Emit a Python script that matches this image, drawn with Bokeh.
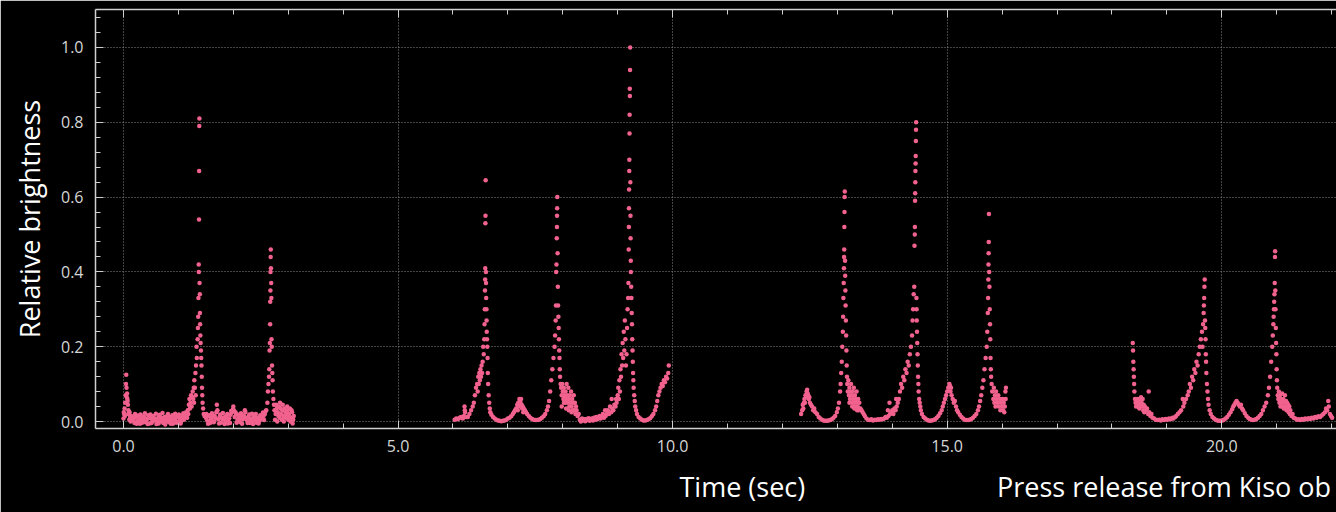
from bokeh.plotting import figure
from bokeh.models import LinearAxis, Range1d, ColumnDataSource, SingleIntervalTicker, FixedTicker, PrintfTickFormatter
from bokeh.embed import file_html
from bokeh.resources import INLINE

# Light-curve samples: (time in sec, relative brightness)
seg1 = [(0.00,0.008),(0.005,0.025),(0.01,0.02),(0.02,0.035),(0.025,0.015),(0.03,0.05),(0.04,0.07),(0.045,0.10),
        (0.05,0.125),(0.055,0.09),(0.06,0.065),(0.065,0.075),(0.07,0.06),(0.075,0.055),(0.08,0.045),(0.085,0.02),
        (0.09,0.03),(0.10,0.02),(0.105,0.005),(0.11,0.025),(0.12,0.012),(0.13,0.0),(0.14,0.015),(0.16,0.005),
        (0.175,0.003),(0.19,0.012),(0.20,-0.004),(0.21,0.020),(0.225,0.010),(0.24,-0.006),(0.25,0.001),(0.26,0.016),
        (0.275,0.014),(0.29,0.004),(0.30,-0.006),(0.31,0.019),(0.325,0.007),(0.34,-0.003),(0.35,0.002),(0.36,0.013),
        (0.375,0.012),(0.39,0.022),(0.40,-0.002),(0.41,0.006),(0.425,0.005),(0.44,-0.007),(0.45,0.017),(0.46,0.011),
        (0.475,-0.005),(0.49,0.019),(0.50,0.008),(0.51,-0.004),(0.525,0.000),(0.54,0.015),(0.55,0.011),(0.56,0.007),
        (0.575,0.003),(0.59,0.021),(0.60,-0.007),(0.61,0.002),(0.625,0.009),(0.64,-0.005),(0.65,0.014),(0.66,0.018),
        (0.675,0.001),(0.69,0.010),(0.70,0.006),(0.71,0.023),(0.725,-0.004),(0.74,0.004),(0.75,0.012),(0.76,-0.008),
        (0.775,0.002),(0.79,0.009),(0.80,0.016),(0.81,0.020),(0.825,-0.001),(0.84,0.012),(0.85,0.007),(0.86,-0.006),
        (0.875,0.004),(0.89,0.017),(0.90,-0.006),(0.91,0.006),(0.925,0.010),(0.94,0.021),(0.95,0.003),(0.96,-0.003),
        (0.975,0.013),(0.99,0.014),(1.00,-0.002),(1.01,0.019),(1.025,0.008),(1.04,-0.005),(1.05,0.001),(1.06,0.011),
        (1.075,0.015),(1.09,0.022),(1.10,0.005),(1.11,0.008),
        (1.125,0.012),(1.14,0.025),(1.15,0.02),(1.16,0.01),(1.17,0.03),(1.18,0.02),(1.19,0.045),(1.20,0.06),(1.21,0.035),
        (1.22,0.05),(1.23,0.07),(1.24,0.04),(1.25,0.065),(1.26,0.08),(1.27,0.06),(1.28,0.09),(1.285,0.05),(1.29,0.11),
        (1.30,0.09),(1.31,0.13),(1.315,0.07),(1.32,0.15),(1.33,0.2),(1.335,0.17),
        (1.35,0.22),(1.355,0.25),(1.36,0.28),(1.365,0.33),(1.37,0.42),(1.372,0.40),(1.375,0.54),(1.377,0.67),(1.38,0.79),
        (1.382,0.81),(1.385,0.37),(1.39,0.34),(1.392,0.29),(1.395,0.26),(1.40,0.23),(1.405,0.21),(1.41,0.19),(1.415,0.17),
        (1.42,0.15),(1.425,0.12),(1.43,0.09),(1.435,0.07),(1.44,0.05),(1.45,0.035),(1.46,0.02),(1.475,0.015),
        (1.50,0.010),(1.51,0.020),(1.525,0.003),(1.54,-0.006),(1.55,0.014),(1.56,0.017),(1.575,-0.004),(1.59,0.004),
        (1.60,0.008),(1.61,0.022),(1.625,0.012),(1.64,-0.002),(1.65,0.000),(1.66,0.015),(1.675,0.009),(1.69,0.025),
        (1.70,0.045),(1.71,0.030),(1.725,0.006),(1.74,-0.005),(1.75,0.013),(1.76,0.019),(1.775,-0.003),(1.79,0.010),
        (1.80,0.007),(1.81,0.023),(1.825,0.011),(1.84,-0.007),(1.85,0.002),(1.86,0.012),(1.875,0.016),(1.89,0.020),
        (1.90,-0.005),(1.91,0.005),(1.925,0.009),(1.94,-0.004),(1.95,0.018),(1.96,0.028),(1.975,0.025),(1.99,0.032),
        (2.00,0.040),(2.01,0.03),(2.025,0.012),(2.04,0.025),(2.05,0.020),(2.06,-0.003),(2.075,0.004),(2.09,0.018),
        (2.10,0.011),(2.11,0.007),(2.125,-0.002),(2.14,0.022),(2.15,0.014),(2.16,-0.006),(2.175,0.006),(2.19,0.016),
        (2.20,0.009),(2.21,0.030),(2.22,0.025),(2.24,0.010),(2.25,0.003),(2.26,-0.004),(2.275,0.012),(2.29,0.019),
        (2.30,-0.004),(2.31,0.006),(2.325,0.008),(2.34,0.021),(2.35,0.001),(2.36,-0.007),(2.375,0.013),(2.39,0.014),
        (2.40,0.005),(2.41,0.020),(2.425,-0.003),(2.44,0.003),(2.45,0.010),(2.46,-0.005),(2.475,0.002),(2.49,0.017),
        (2.50,0.012),(2.51,0.009),(2.525,0.006),(2.54,0.024),(2.55,0.015),(2.56,0.004),(2.575,0.02),(2.59,0.028),
        (2.60,0.03),(2.62,0.05),(2.63,0.08),(2.64,0.10),(2.65,0.12),(2.655,0.14),(2.66,0.19),(2.665,0.21),(2.67,0.26),
        (2.672,0.32),(2.675,0.35),(2.677,0.40),(2.68,0.44),(2.682,0.46),(2.685,0.41),(2.69,0.37),(2.693,0.33),(2.695,0.22),
        (2.70,0.2),(2.705,0.15),(2.71,0.13),(2.715,0.11),(2.72,0.08),(2.73,0.06),(2.74,0.045),
        (2.75,0.03),(2.76,0.005),(2.77,0.02),(2.78,0.045),(2.79,0.035),(2.80,0.0),(2.81,0.025),(2.82,0.015),(2.83,0.04),
        (2.84,0.01),(2.85,0.05),(2.86,0.035),(2.87,0.02),(2.88,0.005),(2.89,0.03),(2.90,0.045),(2.91,0.015),(2.92,0.0),
        (2.93,0.035),(2.94,0.01),(2.95,0.025),(2.96,0.015),(2.97,0.01),(2.98,0.04),(2.99,0.03),(3.00,0.005),(3.01,0.02),
        (3.02,0.015),(3.03,0.035),(3.04,0.0),(3.05,0.01),(3.06,0.03),(3.07,0.025),(3.08,-0.005),(3.09,0.005),(3.10,0.015)]

seg2 = [(6.03,0.005),(6.06,0.008),(6.09,0.006),(6.12,0.010),(6.15,0.012),(6.18,0.008),(6.20,0.015),(6.21,0.04),
        (6.215,0.03),(6.22,0.025),(6.24,0.012),(6.27,0.012),(6.30,0.02),(6.33,0.03),(6.36,0.04),(6.38,0.05),(6.40,0.07),
        (6.42,0.09),(6.44,0.10),(6.45,0.08),(6.46,0.12),(6.47,0.10),(6.48,0.13),(6.49,0.11),(6.50,0.14),(6.51,0.12),
        (6.52,0.15),(6.53,0.13),(6.54,0.16),(6.55,0.2),
        (6.56,0.18),(6.57,0.22),(6.575,0.26),(6.58,0.3),(6.583,0.35),(6.586,0.38),(6.588,0.41),(6.59,0.53),(6.592,0.55),
        (6.595,0.645),(6.60,0.40),(6.602,0.37),(6.605,0.33),(6.61,0.30),(6.612,0.27),(6.615,0.24),(6.62,0.22),(6.625,0.2),
        (6.63,0.17),(6.635,0.13),(6.64,0.1),(6.65,0.07),(6.66,0.05),(6.67,0.035),(6.68,0.025),(6.70,0.018),
        (6.73,0.012),(6.76,0.008),(6.79,0.005),(6.82,0.003),(6.85,0.002),(6.88,0.001),(6.91,0.002),(6.94,0.003),
        (6.97,0.005),(7.00,0.008),(7.03,0.010),(7.06,0.014),(7.09,0.02),
        (7.11,0.025),(7.13,0.03),(7.15,0.035),(7.17,0.045),(7.18,0.03),(7.19,0.05),(7.20,0.04),(7.21,0.06),(7.22,0.055),
        (7.23,0.05),(7.24,0.06),(7.25,0.045),(7.26,0.035),(7.27,0.04),(7.28,0.025),(7.29,0.035),(7.31,0.03),(7.33,0.025),
        (7.35,0.02),(7.38,0.015),(7.41,0.01),(7.44,0.007),(7.47,0.005),(7.50,0.004),(7.53,0.004),(7.56,0.005),
        (7.59,0.007),(7.62,0.01),(7.65,0.014),(7.68,0.02),(7.71,0.03),(7.73,0.04),(7.75,0.055),(7.77,0.08),(7.79,0.11),
        (7.81,0.14),(7.83,0.17),(7.85,0.2),(7.86,0.23),(7.87,0.27),(7.875,0.31),(7.88,0.4),(7.885,0.42),(7.89,0.49),
        (7.893,0.52),(7.895,0.55),(7.897,0.57),(7.90,0.60),(7.905,0.45),(7.91,0.36),(7.915,0.31),(7.92,0.28),
        (7.925,0.25),(7.93,0.22),(7.935,0.19),(7.94,0.17),(7.945,0.14),(7.95,0.12),(7.96,0.1),
        (7.97,0.09),(7.98,0.07),(7.98,0.04),(7.99,0.1),(8.00,0.08),(8.01,0.06),(8.02,0.09),(8.02,0.05),(8.03,0.07),
        (8.04,0.05),(8.05,0.08),(8.06,0.06),(8.06,0.035),(8.07,0.1),(8.08,0.07),(8.09,0.05),(8.10,0.09),(8.11,0.06),
        (8.11,0.03),(8.12,0.04),(8.13,0.07),(8.14,0.05),(8.15,0.08),(8.16,0.04),(8.16,0.025),(8.17,0.06),(8.18,0.03),
        (8.19,0.05),(8.20,0.07),(8.21,0.03),(8.22,0.05),(8.23,0.02),(8.24,0.04),(8.25,0.03),(8.27,0.015),(8.29,0.02),
        (8.31,0.005),(8.33,0.0),(8.35,0.008),(8.37,0.003),(8.39,0.006),(8.41,0.001),(8.43,0.007),(8.45,0.004),
        (8.47,0.009),(8.49,0.002),(8.51,0.006),(8.53,0.008),(8.55,0.003),(8.57,0.01),(8.59,0.005),(8.61,0.012),
        (8.63,0.006),(8.65,0.01),(8.67,0.015),(8.69,0.008),(8.71,0.012),(8.73,0.02),(8.75,0.01),(8.77,0.03),(8.78,0.015),
        (8.80,0.02),(8.82,0.03),(8.84,0.02),(8.86,0.04),(8.88,0.025),(8.89,0.06),(8.90,0.035),(8.92,0.03),(8.94,0.045),
        (8.96,0.04),(8.97,0.06),(8.98,0.05),(9.00,0.07),(9.01,0.09),(9.02,0.06),(9.03,0.11),(9.04,0.08),(9.05,0.14),
        (9.06,0.12),(9.07,0.18),(9.08,0.15),(9.09,0.21),(9.10,0.17),(9.11,0.24),(9.12,0.19),(9.13,0.27),(9.14,0.22),
        (9.15,0.15),(9.16,0.18),(9.17,0.25),(9.18,0.3),
        (9.19,0.33),(9.195,0.37),(9.20,0.46),(9.203,0.52),(9.205,0.57),(9.207,0.62),(9.21,0.67),(9.212,0.70),
        (9.215,0.77),(9.217,0.82),(9.22,0.89),(9.222,0.87),(9.225,0.94),(9.227,1.0),(9.23,0.64),(9.233,0.55),
        (9.235,0.49),(9.238,0.43),(9.24,0.40),(9.245,0.36),(9.25,0.33),(9.255,0.29),(9.26,0.26),(9.265,0.22),
        (9.27,0.19),(9.275,0.16),(9.28,0.13),(9.285,0.11),(9.29,0.09),(9.30,0.07),(9.31,0.055),(9.32,0.04),
        (9.335,0.03),(9.35,0.02),
        (9.38,0.012),(9.41,0.008),(9.44,0.005),(9.47,0.003),(9.50,0.003),(9.53,0.004),(9.56,0.006),(9.59,0.009),
        (9.62,0.014),(9.65,0.02),(9.68,0.03),(9.70,0.04),(9.72,0.055),(9.74,0.07),(9.76,0.08),(9.78,0.09),(9.80,0.1),
        (9.82,0.095),(9.84,0.11),(9.86,0.105),(9.88,0.12),(9.90,0.115),(9.92,0.13),(9.93,0.15)]

seg3 = [(12.34,0.02),(12.36,0.03),(12.37,0.045),(12.38,0.035),(12.39,0.05),(12.40,0.06),(12.41,0.05),(12.42,0.07),
        (12.43,0.065),(12.44,0.08),(12.45,0.085),(12.46,0.075),(12.47,0.07),(12.48,0.06),(12.49,0.065),(12.50,0.05),
        (12.52,0.045),(12.54,0.04),(12.56,0.03),(12.58,0.035),(12.60,0.025),(12.63,0.02),(12.66,0.012),(12.69,0.008),
        (12.72,0.005),(12.75,0.003),(12.78,0.002),(12.81,0.002),(12.84,0.003),(12.87,0.004),(12.90,0.006),(12.93,0.01),
        (12.96,0.015),(12.99,0.025),(13.01,0.035),(13.03,0.05),(13.05,0.08),
        (13.06,0.1),(13.07,0.13),(13.08,0.16),(13.09,0.2),(13.10,0.24),(13.105,0.28),(13.11,0.33),(13.115,0.37),
        (13.12,0.41),(13.122,0.44),(13.125,0.46),(13.127,0.52),(13.13,0.56),(13.132,0.60),(13.135,0.615),(13.14,0.43),
        (13.143,0.39),(13.146,0.35),(13.15,0.31),(13.155,0.27),(13.16,0.23),(13.165,0.19),(13.17,0.15),(13.175,0.12),
        (13.18,0.1),(13.19,0.08),(13.20,0.11),(13.21,0.07),(13.22,0.09),(13.22,0.05),(13.23,0.06),(13.24,0.08),
        (13.25,0.1),(13.26,0.07),(13.27,0.05),(13.27,0.04),(13.28,0.08),(13.29,0.06),(13.30,0.09),(13.31,0.05),
        (13.31,0.035),(13.32,0.07),(13.33,0.04),(13.34,0.06),(13.35,0.08),(13.36,0.05),(13.36,0.03),(13.37,0.04),
        (13.38,0.06),(13.39,0.03),(13.40,0.05),(13.42,0.035),(13.44,0.03),(13.46,0.025),(13.48,0.02),(13.50,0.015),
        (13.53,0.008),(13.56,0.005),(13.59,0.004),(13.62,0.006),(13.65,0.003),(13.68,0.005),(13.71,0.004),(13.74,0.006),
        (13.77,0.005),(13.80,0.007),(13.83,0.006),(13.86,0.009),(13.88,0.012),(13.90,0.01),(13.92,0.03),(13.93,0.015),
        (13.95,0.05),(13.96,0.02),(13.98,0.025),(14.00,0.03),(14.02,0.02),(14.04,0.035),(14.06,0.03),
        (14.07,0.06),(14.08,0.04),(14.10,0.05),(14.12,0.06),(14.14,0.08),(14.16,0.1),(14.18,0.09),(14.20,0.12),
        (14.22,0.11),(14.24,0.14),(14.26,0.13),(14.28,0.16),(14.30,0.15),(14.32,0.18),(14.34,0.2),(14.36,0.23),
        (14.37,0.27),(14.38,0.3),(14.39,0.34),(14.40,0.36),(14.405,0.47),(14.41,0.5),(14.412,0.52),(14.415,0.59),
        (14.417,0.61),(14.42,0.64),(14.422,0.67),(14.425,0.69),(14.427,0.71),(14.43,0.75),(14.432,0.78),(14.435,0.80),
        (14.44,0.33),(14.443,0.3),(14.446,0.27),(14.45,0.24),(14.455,0.21),(14.46,0.18),(14.465,0.15),(14.47,0.12),
        (14.475,0.1),(14.48,0.08),(14.49,0.06),(14.50,0.05),(14.51,0.04),(14.52,0.03),(14.54,0.02),
        (14.57,0.012),(14.60,0.008),(14.63,0.005),(14.66,0.003),(14.69,0.002),(14.72,0.003),(14.75,0.004),(14.78,0.006),
        (14.81,0.01),(14.84,0.015),(14.87,0.022),(14.90,0.03),(14.92,0.04),(14.94,0.05),(14.96,0.06),(14.98,0.07),
        (15.00,0.08),(15.02,0.09),(15.04,0.1),(15.05,0.095),(15.06,0.08),(15.07,0.09),(15.08,0.07),(15.10,0.06),
        (15.12,0.05),(15.14,0.055),(15.16,0.04),(15.18,0.03),(15.20,0.025),(15.23,0.018),(15.26,0.012),(15.29,0.008),
        (15.32,0.005),(15.35,0.004),(15.38,0.004),(15.41,0.005),(15.44,0.007),(15.47,0.01),(15.50,0.015),(15.53,0.02),
        (15.56,0.03),(15.58,0.04),(15.60,0.055),(15.62,0.07),(15.64,0.09),
        (15.66,0.11),(15.68,0.14),(15.70,0.17),(15.72,0.2),(15.73,0.24),(15.74,0.29),(15.745,0.33),(15.75,0.38),
        (15.752,0.42),(15.755,0.45),(15.757,0.48),(15.76,0.555),(15.765,0.40),(15.77,0.36),(15.775,0.3),(15.78,0.26),
        (15.785,0.22),(15.79,0.17),(15.795,0.14),(15.80,0.12),(15.81,0.1),
        (15.82,0.08),(15.84,0.06),(15.85,0.09),(15.86,0.05),(15.87,0.07),(15.88,0.04),(15.89,0.08),(15.90,0.06),
        (15.92,0.05),(15.93,0.07),(15.94,0.04),(15.96,0.06),(15.97,0.03),(15.98,0.05),(16.00,0.04),(16.01,0.06),
        (16.02,0.03),(16.03,0.05),(16.04,0.025),(16.05,0.04),(16.06,0.08),(16.065,0.06),(16.07,0.09)]

seg4 = [(18.38,0.21),(18.385,0.19),(18.39,0.16),(18.395,0.14),(18.40,0.12),(18.405,0.1),(18.41,0.08),(18.42,0.06),
        (18.43,0.05),(18.44,0.04),(18.45,0.055),(18.46,0.045),(18.47,0.06),(18.48,0.04),(18.49,0.05),(18.50,0.035),
        (18.51,0.055),(18.52,0.045),(18.53,0.065),(18.54,0.05),(18.55,0.04),(18.56,0.06),(18.57,0.03),(18.58,0.045),
        (18.59,0.025),(18.60,0.04),(18.62,0.03),(18.64,0.035),(18.66,0.02),(18.67,0.08),(18.68,0.025),(18.70,0.015),
        (18.72,0.02),(18.74,0.01),(18.77,0.008),(18.80,0.005),(18.83,0.004),(18.86,0.005),(18.89,0.003),(18.92,0.006),
        (18.95,0.004),(18.98,0.007),(19.01,0.005),(19.04,0.008),(19.07,0.006),(19.10,0.01),(19.12,0.008),(19.15,0.012),
        (19.17,0.015),(19.20,0.02),(19.23,0.025),(19.26,0.03),(19.29,0.06),(19.30,0.04),(19.32,0.05),(19.35,0.06),
        (19.38,0.07),(19.40,0.08),(19.42,0.1),(19.44,0.09),(19.46,0.12),(19.48,0.11),(19.50,0.14),(19.52,0.13),
        (19.54,0.16),(19.56,0.15),(19.58,0.18),(19.60,0.2),
        (19.62,0.22),(19.64,0.24),(19.65,0.2),(19.66,0.26),(19.67,0.29),(19.675,0.31),(19.68,0.33),(19.685,0.36),
        (19.69,0.38),(19.695,0.27),(19.70,0.25),(19.705,0.22),(19.71,0.18),(19.715,0.16),(19.72,0.13),(19.73,0.1),
        (19.74,0.08),(19.75,0.06),(19.76,0.045),(19.78,0.03),(19.80,0.02),
        (19.83,0.012),(19.86,0.008),(19.89,0.005),(19.92,0.003),(19.95,0.002),(19.98,0.002),(20.01,0.003),(20.04,0.005),
        (20.07,0.008),(20.10,0.012),(20.13,0.018),(20.16,0.025),(20.19,0.033),(20.21,0.04),(20.23,0.045),(20.25,0.05),
        (20.27,0.055),(20.29,0.05),(20.31,0.045),(20.33,0.04),(20.35,0.045),(20.37,0.035),(20.39,0.03),(20.42,0.022),
        (20.45,0.015),(20.48,0.01),(20.51,0.007),(20.54,0.005),(20.57,0.004),(20.60,0.005),(20.63,0.007),(20.66,0.01),
        (20.69,0.015),(20.72,0.02),(20.75,0.03),(20.78,0.04),(20.81,0.05),(20.84,0.07),(20.86,0.09),(20.88,0.12),
        (20.90,0.16),(20.92,0.2),(20.93,0.23),(20.94,0.26),(20.945,0.28),(20.95,0.3),(20.955,0.32),(20.96,0.34),
        (20.965,0.37),(20.97,0.44),(20.972,0.455),(20.975,0.35),(20.98,0.3),(20.985,0.25),(20.99,0.21),(20.995,0.18),
        (21.00,0.14),(21.005,0.11),(21.01,0.09),(21.02,0.07),
        (21.03,0.06),(21.04,0.08),(21.05,0.05),(21.06,0.07),(21.07,0.04),(21.08,0.06),(21.09,0.05),(21.10,0.075),
        (21.11,0.04),(21.12,0.06),(21.13,0.035),(21.14,0.05),(21.15,0.07),(21.16,0.04),(21.17,0.055),(21.18,0.03),
        (21.19,0.05),(21.20,0.035),(21.21,0.045),(21.22,0.025),(21.23,0.04),(21.24,0.02),(21.25,0.03),(21.27,0.015),
        (21.29,0.02),(21.31,0.01),(21.34,0.008),(21.37,0.005),(21.40,0.006),(21.43,0.004),(21.46,0.007),(21.49,0.005),
        (21.52,0.008),(21.55,0.006),(21.58,0.009),(21.61,0.007),(21.64,0.01),(21.67,0.008),(21.70,0.012),(21.73,0.01),
        (21.76,0.014),(21.79,0.012),(21.82,0.016),(21.85,0.02),(21.88,0.025),(21.90,0.035),(21.92,0.03),(21.94,0.055),
        (21.95,0.04),(21.97,0.02),(21.99,0.015),(22.01,0.01)]

x_label = "Time (sec)"
y_label = "Relative brightness"
note = "Press release from Kiso ob"

points = seg1 + seg2 + seg3 + seg4
src = ColumnDataSource(data=dict(t=[pt[0] for pt in points], b=[pt[1] for pt in points]))

AXIS = "#cfcfcf"
FONT = "Open Sans"

p = figure(width=1336, height=512, output_backend="svg", toolbar_location=None,
           x_range=Range1d(-0.51, 22.09), y_range=Range1d(-0.0187, 1.1016),
           background_fill_color="black", border_fill_color="black", outline_line_color=None,
           min_border_left=95, min_border_right=0, min_border_top=9, min_border_bottom=84)

p.scatter("t", "b", source=src, size=4.5, color="#f2628e", line_color=None)

for ax in (p.xaxis[0], p.yaxis[0]):
    ax.axis_line_color = AXIS
    ax.axis_line_width = 1.5
    ax.major_tick_line_color = AXIS
    ax.minor_tick_line_color = AXIS
    ax.major_tick_in = 8
    ax.major_tick_out = 0
    ax.minor_tick_in = 5
    ax.minor_tick_out = 0
    ax.major_label_text_color = "#d6d6d6"
    ax.major_label_text_font = FONT
    ax.major_label_text_font_size = "16px"
    ax.formatter = PrintfTickFormatter(format="%.1f")

p.xaxis[0].ticker = SingleIntervalTicker(interval=5, num_minor_ticks=5)
p.yaxis[0].ticker = SingleIntervalTicker(interval=0.2, num_minor_ticks=5)
p.xaxis[0].major_label_standoff = 11
p.yaxis[0].major_label_standoff = 12

p.yaxis[0].axis_label = y_label
p.yaxis[0].axis_label_text_font = FONT
p.yaxis[0].axis_label_text_font_size = "27px"
p.yaxis[0].axis_label_text_font_style = "normal"
p.yaxis[0].axis_label_text_color = "white"
p.yaxis[0].axis_label_standoff = 10

top = LinearAxis(ticker=SingleIntervalTicker(interval=5, num_minor_ticks=5),
                 axis_line_color=AXIS, axis_line_width=1.5,
                 major_tick_line_color=AXIS, minor_tick_line_color=AXIS,
                 major_tick_in=8, major_tick_out=0, minor_tick_in=5, minor_tick_out=0,
                 major_label_text_color=None, major_label_standoff=0)
p.add_layout(top, "above")

# caption row under the time axis: an unstyled axis whose two labels carry the captions
cap_pos = [11.27, 18.95]
captions = LinearAxis(ticker=FixedTicker(ticks=cap_pos, minor_ticks=[]),
                      major_label_overrides={cap_pos[0]: x_label, cap_pos[1]: note},
                      axis_line_color=None, major_tick_line_color=None, minor_tick_line_color=None,
                      major_tick_in=0, major_tick_out=0, major_label_standoff=13,
                      major_label_text_font=FONT, major_label_text_font_size="27px",
                      major_label_text_color="white")
p.add_layout(captions, "below")

p.grid.grid_line_color = "#888888"
p.grid.grid_line_dash = "1 2"
p.grid.grid_line_width = 1

open("out.html", "w").write(file_html(p, INLINE))
